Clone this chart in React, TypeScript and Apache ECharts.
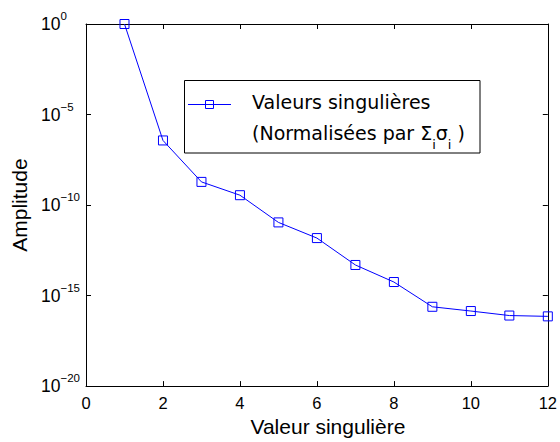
import React, { useEffect, useRef } from "react";
import * as echarts from "echarts";

const xValues = [1, 2, 3, 4, 5, 6, 7, 8, 9, 10, 11, 12];
const amplitudes = [1, 3.7e-7, 1.9e-9, 3.5e-10, 1.1e-11, 1.5e-12, 4.9e-14, 5.6e-15, 2.4e-16, 1.4e-16, 7.9e-17, 7.1e-17];
const xTicks = [0, 2, 4, 6, 8, 10, 12];
const yExponents = [0, -5, -10, -15, -20];
const seriesName = "Valeurs singulières";
const legendLine2 = "(Normalisées par Σ";
const xTitle = "Valeur singulière";
const yTitle = "Amplitude";

const BLUE = "#0000ff";
const AXIS_FONT = "Liberation Sans";
const LEGEND_FONT = "DejaVu Sans";

export default function App() {
  const ref = useRef<HTMLDivElement>(null);
  useEffect(() => {
    if (!ref.current) return;
    const chart = echarts.init(ref.current, undefined, { renderer: "svg" });
    const data = xValues.map((x, i) => [x, amplitudes[i]]);
    const yFmt = (v: number) => {
      const e = Math.round(Math.log10(v));
      if (!yExponents.includes(e)) return "";
      const s = e < 0 ? "−" + Math.abs(e) : String(e);
      return `{b|10}{s|${s}}`;
    };
    const tickCommon = { show: true, inside: true, length: 5, lineStyle: { color: "#000", width: 1 } };
    const lineCommon = { show: true, onZero: false, lineStyle: { color: "#000", width: 1 } };
    chart.setOption({
      animation: false,
      backgroundColor: "#fff",
      grid: { left: 86, right: 12, top: 24, bottom: 54, containLabel: false },
      xAxis: [
        {
          type: "value",
          min: xTicks[0],
          max: xTicks[xTicks.length - 1],
          interval: 2,
          position: "bottom",
          axisLine: lineCommon,
          axisTick: tickCommon,
          splitLine: { show: false },
          axisLabel: { color: "#000", fontFamily: AXIS_FONT, fontSize: 16.5, margin: 8 },
          name: xTitle,
          nameLocation: "middle",
          nameGap: 25,
          nameTextStyle: { color: "#000", fontFamily: AXIS_FONT, fontSize: 21, padding: [0, 0, 0, 22] },
        },
        {
          type: "value",
          min: xTicks[0],
          max: xTicks[xTicks.length - 1],
          interval: 2,
          position: "top",
          axisLine: lineCommon,
          axisTick: tickCommon,
          splitLine: { show: false },
          axisLabel: { show: false },
        },
      ],
      yAxis: [
        {
          type: "log",
          logBase: 10,
          min: 1e-20,
          max: 1,
          interval: 5,
          position: "left",
          axisLine: lineCommon,
          axisTick: tickCommon,
          splitLine: { show: false },
          minorTick: { show: false },
          axisLabel: {
            align: "left",
            margin: 45,
            formatter: yFmt,
            rich: {
              b: { color: "#000", fontFamily: AXIS_FONT, fontSize: 17.5 },
              s: { color: "#000", fontFamily: AXIS_FONT, fontSize: 11.5, padding: [0, 0, 16, 0] },
            },
          },
          name: yTitle,
          nameLocation: "middle",
          nameGap: 50,
          nameRotate: 90,
          nameTextStyle: { color: "#000", fontFamily: AXIS_FONT, fontSize: 21 },
        },
        {
          type: "log",
          logBase: 10,
          min: 1e-20,
          max: 1,
          interval: 5,
          position: "right",
          axisLine: lineCommon,
          axisTick: tickCommon,
          splitLine: { show: false },
          axisLabel: { show: false },
        },
      ],
      series: [
        {
          name: seriesName,
          type: "line",
          xAxisIndex: 0,
          yAxisIndex: 0,
          data,
          clip: false,
          symbol: "rect",
          symbolSize: 9,
          itemStyle: { color: "transparent", borderColor: BLUE, borderWidth: 1 },
          lineStyle: { color: BLUE, width: 1 },
          z: 3,
        },
      ],
      graphic: [
        {
          type: "group",
          left: 184,
          top: 80,
          z: 10,
          children: [
            {
              type: "rect",
              shape: { x: 0.5, y: 0.5, width: 295.5, height: 72.5 },
              style: { fill: "#fff", stroke: "#000", lineWidth: 1 },
            },
            {
              type: "line",
              shape: { x1: 4, y1: 24.5, x2: 47, y2: 24.5 },
              style: { stroke: BLUE, lineWidth: 1 },
            },
            {
              type: "rect",
              shape: { x: 21.5, y: 20.5, width: 8, height: 8 },
              style: { fill: "transparent", stroke: BLUE, lineWidth: 1 },
            },
            {
              type: "text",
              x: 68,
              y: 22,
              style: {
                text: seriesName,
                fontFamily: LEGEND_FONT,
                fontSize: 19,
                fill: "#000",
                verticalAlign: "middle",
              },
            },
            {
              type: "text",
              x: 68,
              y: 53,
              style: {
                text: `${legendLine2}{sub|i}σ{sub|i} )`,
                fontFamily: LEGEND_FONT,
                fontSize: 19,
                fill: "#000",
                verticalAlign: "middle",
                rich: {
                  sub: { fontFamily: LEGEND_FONT, fontSize: 13, fill: "#000", padding: [22, 0, 0, 0] },
                },
              },
            },
          ],
        },
      ],
    });
    return () => chart.dispose();
  }, []);
  return (
    <div
      ref={ref}
      style={{ position: "fixed", left: 0, top: 0, width: 560, height: 442, background: "#fff" }}
    />
  );
}
